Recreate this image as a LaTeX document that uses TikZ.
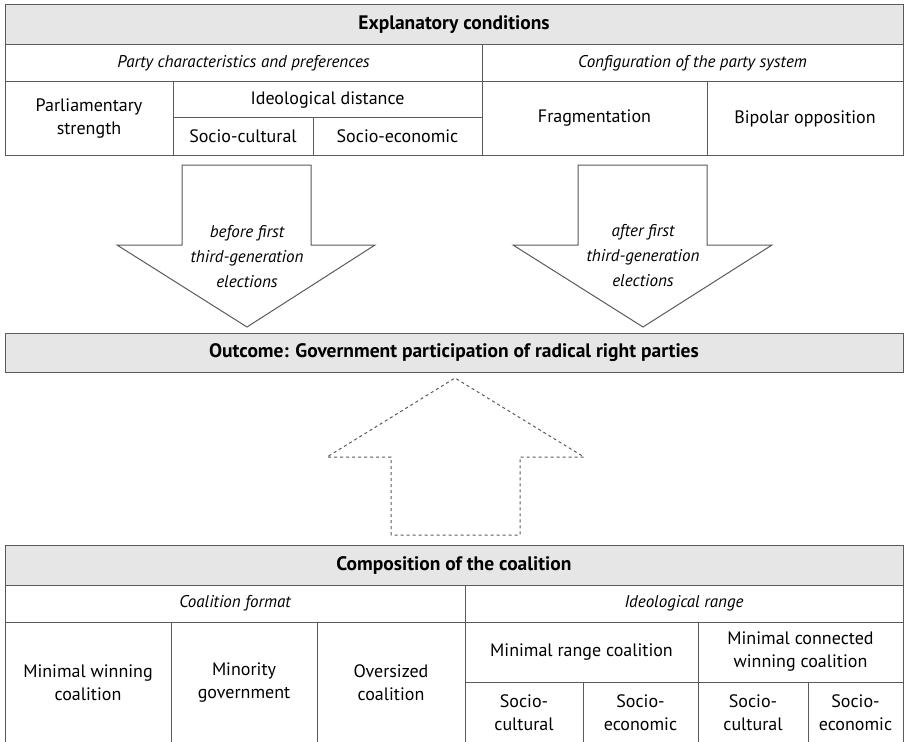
\documentclass[tikz,border=0pt]{standalone}
\usepackage{fontspec}
\setmainfont{PT Sans}
\usetikzlibrary{positioning}
\definecolor{rulegray}{HTML}{5A5A5A}
\definecolor{headgray}{HTML}{E6E6E6}
\tikzset{
  cell/.style={
    % The shape:
    shape=rectangle,inner sep=0pt,
    % The border:
    line width=1pt,draw=rulegray,
    % The text:
    align=center,font=\fontsize{18}{23}\selectfont},
  headcell/.style={
    cell,fill=headgray,
    font=\fontsize{19.5}{23}\selectfont\bfseries},
  groupcell/.style={
    cell,font=\fontsize{17}{23}\selectfont\itshape},
  blockarrow/.style={
    line width=1pt,draw=rulegray,fill=white},
  arrowtext/.style={
    align=center,font=\fontsize{17}{25}\selectfont\itshape}}

\begin{document}
\begin{tikzpicture}[x=1pt,y=-1pt]
	\useasboundingbox (0,0) rectangle (904,741);
	% Explanatory conditions
	\node[headcell,minimum width=898pt,minimum height=40pt] (expl) at (454,25) {Explanatory conditions};
	\node[groupcell,minimum width=477pt,minimum height=37pt] (party) at (243.5,63.5) {Party characteristics and preferences};
	\node[groupcell,minimum width=421pt,minimum height=37pt] (config) at (692.5,63.5) {Configuration of the party system};
	\node[cell,minimum width=168pt,minimum height=73pt] (parl) at (89,118.5) {Parliamentary\\strength};
	\node[cell,minimum width=309pt,minimum height=36pt] (ideo) at (327.5,100) {Ideological distance};
	\node[cell,minimum width=140pt,minimum height=37pt] (idcult) at (243,136.5) {Socio-cultural};
	\node[cell,minimum width=169pt,minimum height=37pt] (idecon) at (397.5,136.5) {Socio-economic};
	\node[cell,minimum width=225pt,minimum height=73pt] (frag) at (594.5,118.5) {Fragmentation};
	\node[cell,minimum width=196pt,minimum height=73pt] (bipol) at (805,118.5) {Bipolar opposition};
	% Arrows down to the outcome
	\draw[blockarrow] (182,165) -- (311,165) -- (311,245) -- (375,245) -- (247,327)
		-- (117,245) -- (182,245) -- cycle;
	\node[arrowtext] (before) at (247,257) {before first\\third-generation\\elections};
	\draw[blockarrow] (578,165) -- (707,165) -- (707,245) -- (772,245) -- (643,327)
		-- (513,245) -- (578,245) -- cycle;
	\node[arrowtext] (after) at (643,256) {after first\\third-generation\\elections};
	% Outcome
	\node[headcell,minimum width=898pt,minimum height=39pt] (outcome) at (454,352.5) {Outcome: Government participation of radical right parties};
	% Dashed arrow up from the coalition
	\draw[blockarrow,dashed] (391,535) -- (391,457) -- (327,457) -- (455,378)
		-- (584,457) -- (520,457) -- (520,535) -- cycle;
	% Composition of the coalition
	\node[headcell,minimum width=898pt,minimum height=40pt] (comp) at (454,565) {Composition of the coalition};
	\node[groupcell,minimum width=460pt,minimum height=37pt] (format) at (235,603.5) {Coalition format};
	\node[groupcell,minimum width=438pt,minimum height=37pt] (range) at (684,603.5) {Ideological range};
	\node[cell,minimum width=166pt,minimum height=122pt] (minwin) at (88,683) {Minimal winning\\coalition};
	\node[cell,minimum width=146pt,minimum height=122pt] (minor) at (244,683) {Minority\\government};
	\node[cell,minimum width=148pt,minimum height=122pt] (oversize) at (391,683) {Oversized\\coalition};
	\node[cell,minimum width=233pt,minimum height=60pt] (minrange) at (581.5,652) {Minimal range coalition};
	\node[cell,minimum width=205pt,minimum height=60pt] (minconn) at (800.5,652) {Minimal connected\\winning coalition};
	\node[cell,minimum width=118pt,minimum height=62pt] (rgcult) at (524,713) {Socio-\\cultural};
	\node[cell,minimum width=115pt,minimum height=62pt] (rgecon) at (640.5,713) {Socio-\\economic};
	\node[cell,minimum width=110pt,minimum height=62pt] (cncult) at (753,713) {Socio-\\cultural};
	\node[cell,minimum width=95pt,minimum height=62pt] (cnecon) at (855.5,713) {Socio-\\economic};
\end{tikzpicture}
\end{document}
